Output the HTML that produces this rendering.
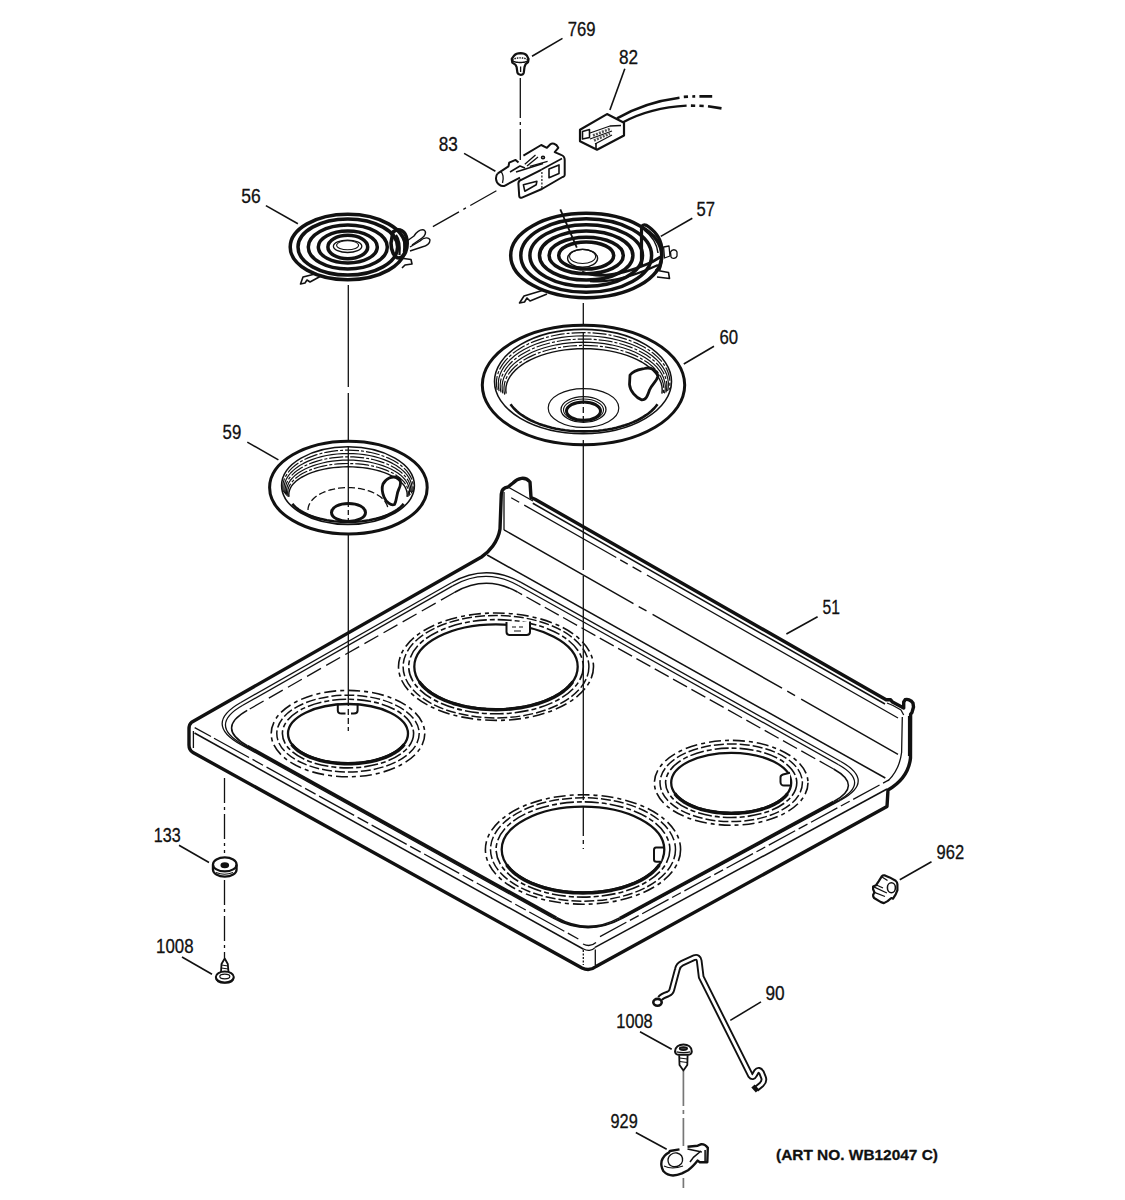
<!DOCTYPE html>
<html><head><meta charset="utf-8"><style>
html,body{margin:0;padding:0;background:#fff;}
svg{display:block;}
text{font-family:"Liberation Sans",sans-serif;fill:#111;}
</style></head><body>
<svg width="1125" height="1200" viewBox="0 0 1125 1200">
<rect width="1125" height="1200" fill="#fff"/>
<g fill="none" stroke="#111" stroke-linejoin="round">
<path d="M191.6,722.2 L481.5,557 C489,552 498,542 500,529 L501.3,494 C501.6,489 504,487.5 508,487 L513,483 C518,478 525,476 530,482 L531,497.5 L535,499.2 L886.1,699.7 L890.5,699.7 L892.5,702.1 L903.7,708 L903.7,702 L905.2,699.7 C907,699 911,699.5 913,703.1 L913.5,707 L912,712.4 L910.6,714.3 L910.5,758 C909,772 900,783 888,790 L887,806.5 L596,966.5 C591,970.5 587,970.5 582,968 L193,752.5 C189.5,750.5 189,748 189,745 L189,729 C189,725 190,723.5 191.6,722.2 Z" stroke-width="3.4" fill="none"/>
<line x1="194.5" y1="733" x2="583.6" y2="949.2" stroke-width="1.56" stroke-linecap="butt"/>
<line x1="595" y1="947.4" x2="887" y2="789" stroke-width="1.56" stroke-linecap="butt"/>
<line x1="583.3" y1="950" x2="583.3" y2="965" stroke-width="1.3" stroke-dasharray="2 1.5" stroke-linecap="butt"/>
<line x1="595.3" y1="949.5" x2="595.3" y2="965" stroke-width="1.3" stroke-linecap="butt"/>
<path d="M583.6,949 C587,951 592,951 595,947.6" stroke-width="1.3" fill="none"/>
<path d="M583,944 C587,946 592,946 596,942.5" stroke-width="1.3" fill="none"/>
<line x1="193.4" y1="731" x2="193.4" y2="748" stroke-width="1.3" stroke-linecap="butt"/>
<path d="M240.8,702.5 Q203.4,723.8 241,744.6" stroke-width="1.3" fill="none"/>
<path d="M552.7,917.9 Q587.6,937.4 622.8,918.3" stroke-width="1.3" fill="none"/>
<path d="M840.6,800.1 Q875.7,781.1 840.8,761.5" stroke-width="1.3" fill="none"/>
<path d="M521,582.4 Q486.1,562.9 451.4,582.7" stroke-width="1.3" fill="none"/>
<path d="M241,744.6 L552.7,917.9" stroke-width="1.3" fill="none"/>
<path d="M622.8,918.3 L840.6,800.1" stroke-width="1.3" fill="none"/>
<path d="M840.8,761.5 L521,582.4" stroke-width="1.3" fill="none"/>
<path d="M451.4,582.7 L240.8,702.5" stroke-width="1.3" fill="none"/>
<path d="M242.8,705.3 Q208,725.1 243,744.6" stroke-width="1.3" fill="none"/>
<path d="M554.7,917.9 Q587.9,936.3 621.3,918.2" stroke-width="1.3" fill="none"/>
<path d="M838.3,800.5 Q870.8,782.8 838.6,764.7" stroke-width="1.3" fill="none"/>
<path d="M518.8,585.7 Q485.7,567.1 452.7,585.9" stroke-width="1.3" fill="none"/>
<path d="M243,744.6 L554.7,917.9" stroke-width="1.6" fill="none"/>
<path d="M621.3,918.2 L838.3,800.5" stroke-width="1.6" fill="none"/>
<path d="M838.6,764.7 L518.8,585.7" stroke-width="1.3" fill="none"/>
<path d="M452.7,585.9 L242.8,705.3" stroke-width="1.3" fill="none"/>
<path d="M247.2,710.4 Q215.9,728.2 247.3,745.7" stroke-width="1.56" fill="none"/>
<path d="M556.4,917.5 Q587.9,935 619.5,917.9" stroke-width="1.56" fill="none"/>
<path d="M833.4,801.8 Q863.3,785.6 833.6,769" stroke-width="1.56" fill="none"/>
<path d="M517.5,592 Q486.1,574.4 454.8,592.2" stroke-width="1.56" fill="none"/>
<path d="M247.3,745.7 L556.4,917.5" stroke-width="2.3" fill="none"/>
<path d="M619.5,917.9 L833.4,801.8" stroke-width="2.3" fill="none"/>
<path d="M833.6,769 L517.5,592" stroke-width="1.3" fill="none" stroke-dasharray="16 5"/>
<path d="M454.8,592.2 L247.2,710.4" stroke-width="1.3" fill="none" stroke-dasharray="16 6"/>
<line x1="194.7" y1="727.6" x2="211" y2="736.5" stroke-width="1.3" stroke-linecap="butt"/>
<line x1="214" y1="738.2" x2="580" y2="939.9" stroke-width="1.3" stroke-dasharray="40 4 12 4" stroke-linecap="butt"/>
<line x1="600" y1="936.6" x2="889" y2="779.9" stroke-width="1.3" stroke-dasharray="30 4 10 4" stroke-linecap="butt"/>
<line x1="487.2" y1="555" x2="885.3" y2="778" stroke-width="1.56" stroke-linecap="butt"/>
<line x1="532.8" y1="503.3" x2="885" y2="704" stroke-width="1.56" stroke-linecap="butt"/>
<line x1="511.2" y1="497.7" x2="898" y2="718" stroke-width="1.3" stroke-dasharray="9.2 5.8 105.9 4.6 8.6 5.6 10.1 6.4 600" stroke-linecap="butt"/>
<line x1="504" y1="529.8" x2="898" y2="754.3" stroke-width="1.43" stroke-dasharray="149 6 9 7" stroke-linecap="butt"/>
<path d="M504,492 L504,530" stroke-width="1.3" fill="none"/>
<path d="M508,487 L533,501" stroke-width="1.3" fill="none"/>
<path d="M902.3,716.9 L901.6,752.5 C900,766 895,774 888.1,780.9" stroke-width="1.3" fill="none"/>
<path d="M887,703 L893,705.5 L901,710 L903.7,715" stroke-width="1.3" fill="none"/>
<path d="M908.5,716 L908.5,756" stroke-width="1.17" fill="none"/>
<ellipse cx="348" cy="733.6" rx="60" ry="29.6" stroke-width="2.3" fill="none"/>
<path d="M404.4,744.3 L403,746 L401.5,747.6 L399.7,749.2 L397.7,750.8 L395.6,752.2 L393.3,753.6 L390.8,754.9 L388.1,756.2 L385.4,757.4 L382.4,758.4 L379.3,759.4 L376.2,760.3 L372.9,761.1 L369.5,761.8 L366,762.4 L362.5,762.9 L358.9,763.3 L355.3,763.6 L351.7,763.7 L348,763.8 L344.3,763.7 L340.7,763.6 L337.1,763.3 L333.5,762.9 L330,762.4 L326.5,761.8 L323.1,761.1 L319.8,760.3 L316.7,759.4 L313.6,758.4 L310.6,757.4 L307.9,756.2 L305.2,754.9 L302.7,753.6 L300.4,752.2 L298.3,750.8 L296.3,749.2 L294.5,747.6 L293,746 L291.6,744.3" stroke-width="3.4" fill="none"/>
<ellipse cx="348" cy="733.6" rx="65.6" ry="34.3" stroke-width="1.6" fill="none" stroke-dasharray="14 3 5 3"/>
<ellipse cx="348" cy="733.6" rx="71.2" ry="38.4" stroke-width="1.5" fill="none" stroke-dasharray="10 3"/>
<ellipse cx="348" cy="733.6" rx="76.8" ry="43.2" stroke-width="1.6" fill="none" stroke-dasharray="12 4 4 4"/>
<ellipse cx="496" cy="666.7" rx="81.7" ry="42.4" stroke-width="2.3" fill="none"/>
<path d="M572.8,681.8 L570.9,684.2 L568.8,686.5 L566.4,688.8 L563.7,691 L560.8,693.1 L557.7,695.1 L554.3,697 L550.7,698.8 L546.9,700.5 L542.9,702 L538.7,703.5 L534.4,704.7 L529.9,705.9 L525.3,706.9 L520.6,707.7 L515.8,708.4 L510.9,709 L506,709.4 L501,709.6 L496,709.7 L491,709.6 L486,709.4 L481.1,709 L476.2,708.4 L471.4,707.7 L466.7,706.9 L462.1,705.9 L457.6,704.7 L453.3,703.5 L449.1,702 L445.1,700.5 L441.3,698.8 L437.7,697 L434.3,695.1 L431.2,693.1 L428.3,691 L425.6,688.8 L423.2,686.5 L421.1,684.2 L419.2,681.8" stroke-width="3.4" fill="none"/>
<ellipse cx="496" cy="666.7" rx="87.3" ry="47.1" stroke-width="1.6" fill="none" stroke-dasharray="14 3 5 3"/>
<ellipse cx="496" cy="666.7" rx="92.9" ry="51.2" stroke-width="1.5" fill="none" stroke-dasharray="10 3"/>
<ellipse cx="496" cy="666.7" rx="97.5" ry="53.7" stroke-width="1.6" fill="none" stroke-dasharray="12 4 4 4"/>
<ellipse cx="583" cy="849.5" rx="81.3" ry="42.9" stroke-width="2.3" fill="none"/>
<path d="M659.4,864.8 L657.6,867.2 L655.4,869.6 L653.1,871.9 L650.4,874.1 L647.5,876.2 L644.4,878.2 L641,880.2 L637.4,882 L633.6,883.7 L629.6,885.2 L625.5,886.7 L621.2,888 L616.7,889.1 L612.1,890.2 L607.4,891 L602.7,891.7 L597.8,892.3 L592.9,892.7 L588,892.9 L583,893 L578,892.9 L573.1,892.7 L568.2,892.3 L563.3,891.7 L558.6,891 L553.9,890.2 L549.3,889.1 L544.8,888 L540.5,886.7 L536.4,885.2 L532.4,883.7 L528.6,882 L525,880.2 L521.6,878.2 L518.5,876.2 L515.6,874.1 L512.9,871.9 L510.6,869.6 L508.4,867.2 L506.6,864.8" stroke-width="3.4" fill="none"/>
<ellipse cx="583" cy="849.5" rx="86.9" ry="47.6" stroke-width="1.6" fill="none" stroke-dasharray="14 3 5 3"/>
<ellipse cx="583" cy="849.5" rx="92.5" ry="51.7" stroke-width="1.5" fill="none" stroke-dasharray="10 3"/>
<ellipse cx="583" cy="849.5" rx="97.6" ry="54.7" stroke-width="1.6" fill="none" stroke-dasharray="12 4 4 4"/>
<ellipse cx="731.2" cy="782.8" rx="60" ry="30" stroke-width="2.3" fill="none"/>
<path d="M787.6,793.7 L786.2,795.4 L784.7,797 L782.9,798.6 L780.9,800.2 L778.8,801.7 L776.5,803.1 L774,804.4 L771.3,805.7 L768.6,806.9 L765.6,808 L762.5,809 L759.4,809.9 L756.1,810.7 L752.7,811.4 L749.2,812 L745.7,812.5 L742.1,812.9 L738.5,813.2 L734.9,813.3 L731.2,813.4 L727.5,813.3 L723.9,813.2 L720.3,812.9 L716.7,812.5 L713.2,812 L709.7,811.4 L706.3,810.7 L703,809.9 L699.9,809 L696.8,808 L693.8,806.9 L691.1,805.7 L688.4,804.4 L685.9,803.1 L683.6,801.7 L681.5,800.2 L679.5,798.6 L677.7,797 L676.2,795.4 L674.8,793.7" stroke-width="3.4" fill="none"/>
<ellipse cx="731.2" cy="782.8" rx="65.6" ry="34.7" stroke-width="1.6" fill="none" stroke-dasharray="14 3 5 3"/>
<ellipse cx="731.2" cy="782.8" rx="71.2" ry="38.8" stroke-width="1.5" fill="none" stroke-dasharray="10 3"/>
<ellipse cx="731.2" cy="782.8" rx="76.8" ry="42.4" stroke-width="1.6" fill="none" stroke-dasharray="12 4 4 4"/>
<path d="M337.8,703.5 L337.8,710.5 C337.8,712.8 339.5,713.6 341.5,713.6 L345.5,713.6" stroke-width="2.0" fill="none"/>
<path d="M351,713.6 L354,713.6 C356,713.6 357.6,712.8 357.6,710.5 L357.6,703.5" stroke-width="2.0" fill="none"/>
<path d="M506.5,622 L506.5,632 C506.5,634 508,635 510,635 L526.5,635 C528.5,635 530,634 530,632 L530,621.5" stroke-width="2.0" fill="#fff"/>
<path d="M512,627 L516,627 M519,627 L523,627 M514,631 L521,631" stroke-width="1.04" fill="none"/>
<path d="M663,847.5 L656,847.5 C654.5,847.5 654,848.5 654,850 L654,859.5 C654,861 655,861.8 656.5,861.8 L661,861.8" stroke-width="2.0" fill="#fff"/>
<path d="M790,772.8 L783,774.5 C781.5,775 780.5,776 780.5,777.5 L780.5,782 C780.5,784 782,785.6 784,785.6 L790,785.6" stroke-width="2.0" fill="#fff"/>
<line x1="348.3" y1="285" x2="348.3" y2="387" stroke-width="1.3" stroke-linecap="butt"/>
<line x1="348.3" y1="393" x2="348.3" y2="440" stroke-width="1.3" stroke-linecap="butt"/>
<line x1="348.3" y1="446" x2="348.3" y2="502" stroke-width="1.3" stroke-linecap="butt"/>
<line x1="348.3" y1="502" x2="348.3" y2="522" stroke-width="1.3" stroke-dasharray="5 3" stroke-linecap="butt"/>
<line x1="348.3" y1="535" x2="348.3" y2="700" stroke-width="1.3" stroke-linecap="butt"/>
<line x1="348.3" y1="700" x2="348.3" y2="731" stroke-width="1.3" stroke-dasharray="6 3" stroke-linecap="butt"/>
<line x1="583.3" y1="303" x2="583.3" y2="326" stroke-width="1.3" stroke-linecap="butt"/>
<line x1="583.3" y1="333" x2="583.3" y2="398" stroke-width="1.3" stroke-linecap="butt"/>
<line x1="583.3" y1="398" x2="583.3" y2="425" stroke-width="1.3" stroke-dasharray="6 3" stroke-linecap="butt"/>
<line x1="583.3" y1="440" x2="583.3" y2="570" stroke-width="1.3" stroke-linecap="butt"/>
<line x1="583.3" y1="576" x2="583.3" y2="800" stroke-width="1.3" stroke-linecap="butt"/>
<line x1="583.3" y1="806" x2="583.3" y2="849" stroke-width="1.3" stroke-dasharray="30 4 4 4" stroke-linecap="butt"/>
<line x1="224.5" y1="778" x2="224.5" y2="853" stroke-width="1.3" stroke-dasharray="25 4 3 4" stroke-linecap="butt"/>
<line x1="224.5" y1="880" x2="224.5" y2="958" stroke-width="1.3" stroke-dasharray="25 4 3 4" stroke-linecap="butt"/>
<line x1="520.3" y1="78" x2="520.3" y2="160" stroke-width="1.3" stroke-dasharray="40 4 3 4" stroke-linecap="butt"/>
<line x1="496.4" y1="190.7" x2="428.9" y2="228.9" stroke-width="1.3" stroke-dasharray="30 5 3 5" stroke-linecap="butt"/>
<g stroke="#777">
<line x1="683.4" y1="1071" x2="683.4" y2="1106" stroke-width="1.7" stroke-linecap="butt"/>
<line x1="683.4" y1="1110" x2="683.4" y2="1114" stroke-width="1.7" stroke-linecap="butt"/>
<line x1="683.4" y1="1118" x2="683.4" y2="1146" stroke-width="1.7" stroke-linecap="butt"/>
<line x1="683.4" y1="1178" x2="683.4" y2="1188" stroke-width="1.7" stroke-linecap="butt"/>
</g>
<ellipse cx="348.4" cy="487.6" rx="78.8" ry="46.4" stroke-width="3.0" fill="none"/>
<ellipse cx="348" cy="485.6" rx="66.4" ry="38.8" stroke-width="1.56" fill="none"/>
<path d="M283.4,492.2 L282.9,489.1 L282.8,485.9 L283.2,482.8 L284.1,479.6 L285.5,476.6 L287.3,473.6 L289.5,470.7 L292.2,467.9 L295.3,465.3 L298.8,462.8 L302.6,460.5 L306.8,458.4 L311.3,456.6 L316,454.9 L321,453.5 L326.1,452.3 L331.5,451.3 L336.9,450.7 L342.4,450.3 L348,450.1 L353.6,450.3 L359.1,450.7 L364.5,451.3 L369.9,452.3 L375,453.5 L380,454.9 L384.7,456.6 L389.2,458.4 L393.4,460.5 L397.2,462.8 L400.7,465.3 L403.8,467.9 L406.5,470.7 L408.7,473.6 L410.5,476.6 L411.9,479.6 L412.8,482.8 L413.2,485.9 L413.1,489.1 L412.6,492.2" stroke-width="1.17" fill="none" stroke-dasharray="14 2 3 2"/>
<path d="M284.6,493.4 L284.1,490.4 L284,487.4 L284.4,484.4 L285.3,481.5 L286.6,478.6 L288.4,475.7 L290.6,473 L293.3,470.4 L296.3,467.9 L299.7,465.5 L303.5,463.4 L307.6,461.4 L311.9,459.6 L316.6,458 L321.5,456.6 L326.5,455.5 L331.8,454.6 L337.1,454 L342.5,453.6 L348,453.5 L353.5,453.6 L358.9,454 L364.2,454.6 L369.5,455.5 L374.5,456.6 L379.4,458 L384.1,459.6 L388.4,461.4 L392.5,463.4 L396.3,465.5 L399.7,467.9 L402.7,470.4 L405.4,473 L407.6,475.7 L409.4,478.6 L410.7,481.5 L411.6,484.4 L412,487.4 L411.9,490.4 L411.4,493.4" stroke-width="1.17" fill="none"/>
<path d="M285.8,494.6 L285.3,491.8 L285.2,489 L285.6,486.1 L286.5,483.3 L287.8,480.6 L289.5,477.9 L291.7,475.3 L294.3,472.8 L297.3,470.4 L300.6,468.2 L304.3,466.2 L308.3,464.3 L312.6,462.6 L317.2,461.1 L322,459.8 L326.9,458.7 L332.1,457.9 L337.3,457.3 L342.6,456.9 L348,456.8 L353.4,456.9 L358.7,457.3 L363.9,457.9 L369.1,458.7 L374,459.8 L378.8,461.1 L383.4,462.6 L387.7,464.3 L391.7,466.2 L395.4,468.2 L398.7,470.4 L401.7,472.8 L404.3,475.3 L406.5,477.9 L408.2,480.6 L409.5,483.3 L410.4,486.1 L410.8,489 L410.7,491.8 L410.2,494.6" stroke-width="1.17" fill="none" stroke-dasharray="14 2 3 2"/>
<path d="M287,495.8 L286.5,493.2 L286.4,490.5 L286.8,487.8 L287.7,485.2 L288.9,482.6 L290.6,480 L292.8,477.6 L295.3,475.2 L298.2,473 L301.5,470.9 L305.1,469 L309.1,467.2 L313.3,465.6 L317.8,464.2 L322.5,463 L327.3,461.9 L332.4,461.2 L337.5,460.6 L342.7,460.2 L348,460.1 L353.3,460.2 L358.5,460.6 L363.6,461.2 L368.7,461.9 L373.5,463 L378.2,464.2 L382.7,465.6 L386.9,467.2 L390.9,469 L394.5,470.9 L397.8,473 L400.7,475.2 L403.2,477.6 L405.4,480 L407.1,482.6 L408.3,485.2 L409.2,487.8 L409.6,490.5 L409.5,493.2 L409,495.8" stroke-width="1.17" fill="none"/>
<path d="M288.2,497 L287.7,494.5 L287.6,492 L288,489.5 L288.8,487 L290.1,484.6 L291.8,482.2 L293.9,479.9 L296.3,477.7 L299.2,475.6 L302.4,473.6 L306,471.8 L309.8,470.1 L314,468.6 L318.3,467.3 L323,466.1 L327.7,465.2 L332.7,464.4 L337.7,463.9 L342.8,463.6 L348,463.5 L353.2,463.6 L358.3,463.9 L363.3,464.4 L368.3,465.2 L373,466.1 L377.7,467.3 L382,468.6 L386.2,470.1 L390,471.8 L393.6,473.6 L396.8,475.6 L399.7,477.7 L402.1,479.9 L404.2,482.2 L405.9,484.6 L407.2,487 L408,489.5 L408.4,492 L408.3,494.5 L407.8,497" stroke-width="1.17" fill="none" stroke-dasharray="14 2 3 2"/>
<path d="M289,496.8 L288.8,494.5 L289,492.2 L289.6,490 L290.6,487.7 L291.9,485.5 L293.7,483.4 L295.9,481.3 L298.4,479.4 L301.2,477.5 L304.4,475.8 L307.8,474.1 L311.6,472.7 L315.5,471.3 L319.8,470.1 L324.2,469.1 L328.7,468.3 L333.4,467.6 L338.2,467.2 L343.1,466.9 L348,466.8 L352.9,466.9 L357.8,467.2 L362.6,467.6 L367.3,468.3 L371.8,469.1 L376.2,470.1 L380.5,471.3 L384.4,472.7 L388.2,474.1 L391.6,475.8 L394.8,477.5 L397.6,479.4 L400.1,481.3 L402.3,483.4 L404.1,485.5 L405.4,487.7 L406.4,490 L407,492.2 L407.2,494.5 L407,496.8" stroke-width="1.43" fill="none"/>
<path d="M403.6,503.8 L402.3,505.4 L400.7,506.9 L399,508.4 L397.1,509.8 L395,511.2 L392.7,512.5 L390.2,513.7 L387.6,514.9 L384.9,516 L382,517 L378.9,517.9 L375.8,518.8 L372.5,519.5 L369.2,520.2 L365.8,520.7 L362.3,521.2 L358.8,521.5 L355.2,521.8 L351.6,521.9 L348,522 L344.4,521.9 L340.8,521.8 L337.2,521.5 L333.7,521.2 L330.2,520.7 L326.8,520.2 L323.5,519.5 L320.2,518.8 L317.1,517.9 L314,517 L311.1,516 L308.4,514.9 L305.8,513.7 L303.3,512.5 L301,511.2 L298.9,509.8 L297,508.4 L295.3,506.9 L293.7,505.4 L292.4,503.8" stroke-width="2.6" fill="none"/>
<ellipse cx="348.5" cy="512.4" rx="17" ry="9" stroke-width="3.0" fill="none"/>
<path d="M383,484 C386,478 392,476 397,477.5 C402,479.5 401,485 398.5,490 C396.5,494 397,500 394.5,504.5 C391,506 386,502 384,497 C382,492 381.5,488 383,484 Z" stroke-width="2.8" fill="none"/>
<path d="M308,510 L308.1,508.2 L308.5,506.5 L309.1,504.8 L310,503.1 L311,501.4 L312.4,499.8 L313.9,498.3 L315.6,496.8 L317.6,495.5 L319.7,494.2 L322,493 L324.5,491.9 L327.1,490.9 L329.8,490 L332.7,489.3 L335.6,488.7 L338.7,488.2 L341.7,487.9 L344.9,487.7 L348,487.6 L351.1,487.7 L354.3,487.9 L357.3,488.2 L360.4,488.7 L363.3,489.3 L366.2,490 L368.9,490.9 L371.5,491.9 L374,493 L376.3,494.2 L378.4,495.5 L380.4,496.8 L382.1,498.3 L383.6,499.8 L385,501.4 L386,503.1 L386.9,504.8 L387.5,506.5 L387.9,508.2 L388,510" stroke-width="1.3" fill="none" stroke-dasharray="7 3"/>
<ellipse cx="583.5" cy="385" rx="101.2" ry="59.8" stroke-width="3.0" fill="none"/>
<ellipse cx="583" cy="381.5" rx="88.5" ry="52.1" stroke-width="1.56" fill="none"/>
<path d="M497.2,389.9 L496.5,385.6 L496.4,381.3 L497,377 L498.2,372.8 L500,368.6 L502.4,364.6 L505.4,360.6 L508.9,356.9 L513,353.3 L517.7,349.9 L522.8,346.8 L528.3,343.9 L534.3,341.4 L540.6,339.1 L547.2,337.1 L554.1,335.5 L561.1,334.2 L568.4,333.3 L575.8,332.8 L583.2,332.6 L590.6,332.8 L597.9,333.3 L605.2,334.2 L612.3,335.5 L619.2,337.1 L625.8,339.1 L632.1,341.4 L638,343.9 L643.6,346.8 L648.7,349.9 L653.3,353.3 L657.4,356.9 L661,360.6 L664,364.6 L666.4,368.6 L668.2,372.8 L669.4,377 L669.9,381.3 L669.8,385.6 L669.1,389.9" stroke-width="1.17" fill="none" stroke-dasharray="14 2 3 2"/>
<path d="M499.1,391.1 L498.4,387 L498.3,382.8 L498.8,378.7 L500,374.6 L501.8,370.5 L504.1,366.6 L507.1,362.8 L510.6,359.2 L514.6,355.7 L519.1,352.5 L524.1,349.5 L529.6,346.7 L535.4,344.2 L541.6,342.1 L548.1,340.2 L554.8,338.6 L561.7,337.4 L568.9,336.5 L576.1,336 L583.3,335.8 L590.6,336 L597.8,336.5 L604.9,337.4 L611.9,338.6 L618.6,340.2 L625.1,342.1 L631.3,344.2 L637.1,346.7 L642.5,349.5 L647.5,352.5 L652.1,355.7 L656.1,359.2 L659.6,362.8 L662.5,366.6 L664.9,370.5 L666.7,374.6 L667.8,378.7 L668.4,382.8 L668.3,387 L667.6,391.1" stroke-width="1.17" fill="none"/>
<path d="M501,392.3 L500.3,388.3 L500.2,384.3 L500.7,380.3 L501.9,376.3 L503.6,372.5 L505.9,368.7 L508.8,365 L512.2,361.5 L516.2,358.2 L520.6,355.1 L525.5,352.2 L530.8,349.5 L536.5,347.1 L542.6,345 L548.9,343.2 L555.5,341.7 L562.3,340.5 L569.3,339.7 L576.4,339.2 L583.5,339 L590.6,339.2 L597.7,339.7 L604.7,340.5 L611.5,341.7 L618.1,343.2 L624.4,345 L630.5,347.1 L636.2,349.5 L641.5,352.2 L646.4,355.1 L650.8,358.2 L654.8,361.5 L658.2,365 L661.1,368.7 L663.4,372.5 L665.1,376.3 L666.3,380.3 L666.8,384.3 L666.7,388.3 L666,392.3" stroke-width="1.17" fill="none" stroke-dasharray="14 2 3 2"/>
<path d="M502.8,393.4 L502.2,389.6 L502.1,385.8 L502.6,381.9 L503.7,378.1 L505.4,374.4 L507.7,370.8 L510.5,367.2 L513.8,363.9 L517.7,360.7 L522.1,357.7 L526.9,354.9 L532.1,352.3 L537.7,350 L543.6,348 L549.8,346.2 L556.3,344.8 L563,343.7 L569.8,342.9 L576.7,342.4 L583.7,342.2 L590.6,342.4 L597.6,342.9 L604.4,343.7 L611.1,344.8 L617.5,346.2 L623.7,348 L629.7,350 L635.3,352.3 L640.5,354.9 L645.3,357.7 L649.6,360.7 L653.5,363.9 L656.8,367.2 L659.7,370.8 L661.9,374.4 L663.6,378.1 L664.7,381.9 L665.3,385.8 L665.2,389.6 L664.5,393.4" stroke-width="1.17" fill="none"/>
<path d="M504.7,394.6 L504,390.9 L504,387.2 L504.5,383.5 L505.5,379.9 L507.2,376.3 L509.4,372.8 L512.2,369.5 L515.5,366.2 L519.3,363.1 L523.5,360.3 L528.2,357.6 L533.3,355.1 L538.8,352.9 L544.6,351 L550.7,349.3 L557,347.9 L563.6,346.8 L570.2,346 L577,345.6 L583.8,345.4 L590.7,345.6 L597.4,346 L604.1,346.8 L610.6,347.9 L617,349.3 L623.1,351 L628.9,352.9 L634.3,355.1 L639.4,357.6 L644.1,360.3 L648.4,363.1 L652.2,366.2 L655.5,369.5 L658.2,372.8 L660.5,376.3 L662.1,379.9 L663.2,383.5 L663.7,387.2 L663.6,390.9 L663,394.6" stroke-width="1.17" fill="none" stroke-dasharray="14 2 3 2"/>
<path d="M506.1,393.6 L505.8,390.2 L506,386.8 L506.8,383.3 L508.1,380 L510,376.7 L512.3,373.5 L515.1,370.4 L518.4,367.5 L522.2,364.7 L526.3,362 L530.9,359.6 L535.9,357.4 L541.1,355.4 L546.7,353.6 L552.5,352.1 L558.5,350.9 L564.8,349.9 L571.1,349.2 L577.5,348.7 L584,348.6 L590.5,348.7 L596.9,349.2 L603.2,349.9 L609.5,350.9 L615.5,352.1 L621.3,353.6 L626.9,355.4 L632.1,357.4 L637.1,359.6 L641.7,362 L645.8,364.7 L649.6,367.5 L652.9,370.4 L655.7,373.5 L658,376.7 L659.9,380 L661.2,383.3 L662,386.8 L662.2,390.2 L661.9,393.6" stroke-width="1.43" fill="none"/>
<path d="M657.5,404.2 L655.7,406.5 L653.7,408.8 L651.4,411 L648.8,413.2 L646,415.2 L643,417.2 L639.8,419 L636.3,420.8 L632.7,422.4 L628.9,423.9 L624.9,425.3 L620.7,426.6 L616.4,427.7 L612,428.7 L607.5,429.5 L602.9,430.2 L598.3,430.7 L593.5,431.1 L588.8,431.3 L584,431.4 L579.2,431.3 L574.5,431.1 L569.7,430.7 L565.1,430.2 L560.5,429.5 L556,428.7 L551.6,427.7 L547.3,426.6 L543.1,425.3 L539.1,423.9 L535.3,422.4 L531.7,420.8 L528.2,419 L525,417.2 L522,415.2 L519.2,413.2 L516.6,411 L514.3,408.8 L512.3,406.5 L510.5,404.2" stroke-width="2.6" fill="none"/>
<ellipse cx="583.5" cy="411.1" rx="17" ry="9.2" stroke-width="3.0" fill="none"/>
<path d="M630,375 C634,370 640,369.5 644.5,368.5 C650,367 656,369 658,376 C657,381 652,384 649.5,390 C647.5,396 646,400 641.7,399.8 C636,398 630,391 629.5,384.5 Z" stroke-width="2.8" fill="none"/>
<ellipse cx="583.5" cy="409.5" rx="22.5" ry="12.8" stroke-width="1.3" fill="none"/>
<ellipse cx="583.5" cy="410" rx="20" ry="11" stroke-width="1.04" fill="none"/>
<ellipse cx="583.5" cy="408" rx="35.3" ry="19.4" stroke-width="1.17" fill="none"/>
<ellipse cx="347.8" cy="247" rx="57.6" ry="32.7" stroke-width="3.5" fill="none"/>
<ellipse cx="347.8" cy="247" rx="49.8" ry="28.1" stroke-width="3.5" fill="none"/>
<ellipse cx="347.8" cy="247" rx="39.5" ry="22" stroke-width="3.5" fill="none"/>
<ellipse cx="347.8" cy="247" rx="29.5" ry="16" stroke-width="3.5" fill="none"/>
<ellipse cx="347.8" cy="247" rx="19.9" ry="11.7" stroke-width="3.5" fill="none"/>
<ellipse cx="347.6" cy="246.3" rx="14.2" ry="6.2" stroke-width="1.3" fill="none"/>
<ellipse cx="347.6" cy="245.3" rx="11" ry="4.5" stroke-width="1.04" fill="none"/>
<path d="M393,232 C399,227 406,231 407,240 C408,249 405,257 399,258 C394,258 391,250 391,243 Z" stroke-width="3.6" fill="none"/>
<path d="M396,235 C399,239 400.5,245 399.5,255" stroke-width="2.2" fill="none"/>
<path d="M402.5,235 C404,240 404.5,246 403.5,252" stroke-width="1.56" fill="none"/>
<path d="M407,241 L414,236 C416,233 420,229 424,230 C427,232 425,236 422,238 L412,245" stroke-width="1.4" fill="none"/>
<path d="M410,247 L420,241 C424,237 429,237 430,240 C430,244 426,246 422,247 L410,251" stroke-width="1.4" fill="none"/>
<path d="M400,258 L411,259.5 L412,264 L405,265 L402,268" stroke-width="1.6" fill="none"/>
<path d="M317,273.5 L303,277 L300.5,284 L305,283 L307,280 L310,282 L321,276" stroke-width="1.6" fill="none"/>
<ellipse cx="586.2" cy="255.5" rx="75.5" ry="42.2" stroke-width="3.5" fill="none"/>
<ellipse cx="586.2" cy="255.5" rx="65.4" ry="36.8" stroke-width="3.5" fill="none"/>
<ellipse cx="586.2" cy="255.5" rx="56.3" ry="30.7" stroke-width="3.5" fill="none"/>
<ellipse cx="586.2" cy="255.5" rx="46.7" ry="24.6" stroke-width="3.5" fill="none"/>
<ellipse cx="586.2" cy="255.5" rx="37.1" ry="18.2" stroke-width="3.5" fill="none"/>
<ellipse cx="586.2" cy="255.5" rx="27.5" ry="13.6" stroke-width="3.5" fill="none"/>
<ellipse cx="582.6" cy="258.3" rx="15" ry="9" stroke-width="1.43" fill="none"/>
<ellipse cx="582.6" cy="256.5" rx="13" ry="7" stroke-width="1.04" fill="none"/>
<path d="M560.3,209.3 L576.8,247.7" stroke-width="1.8" fill="none"/>
<path d="M641.5,265 L641.5,229 C641.5,224 645,224 649,227 C657,233 662,242 662,251 C662,259 661,265 659,270" stroke-width="3.2" fill="none"/>
<path d="M644,230 C652,236 657,244 658,253" stroke-width="1.56" fill="none"/>
<path d="M663.6,247 L669,246 L670,256 L664.5,258 Z" stroke-width="1.3" fill="none"/>
<path d="M670.5,252 C672,249 676,249 677,252 L677,256 C676,259 672,259 671,257 Z" stroke-width="1.3" fill="none"/>
<path d="M655,270 L668.5,272.5 L669.5,278.5 L657,277" stroke-width="1.6" fill="none"/>
<path d="M544,290 L524,296 L519.5,303 L524.5,302 L527,298 L530,301 L547,294" stroke-width="1.6" fill="none"/>
<path d="M582,272 C600,279 625,274 652,262 L662,256" stroke-width="2.8" fill="none"/>
<path d="M590,281 C610,283 632,277 658,265" stroke-width="2.4" fill="none"/>
<path d="M511.7,58.9 L514.2,55.5 C515.5,54 517.5,53.3 520.6,53.2 C523.5,53.3 525.5,54 526.8,55.5 L528.6,58.9 L528.1,62.1 L525.6,64.2 L524.5,67 L523.8,72.7 C523,75.5 518.5,75.5 517.4,72.7 L516.6,67 L515.3,64.6 L512.3,62.6 Z" stroke-width="2.2" fill="none"/>
<path d="M512.6,60.2 L512.6,60 L512.7,59.8 L512.8,59.7 L513,59.5 L513.2,59.3 L513.4,59.2 L513.7,59 L514.1,58.8 L514.4,58.7 L514.8,58.6 L515.3,58.5 L515.7,58.3 L516.2,58.2 L516.7,58.2 L517.3,58.1 L517.9,58 L518.4,58 L519,57.9 L519.6,57.9 L520.2,57.9 L520.8,57.9 L521.4,57.9 L522,58 L522.5,58 L523.1,58.1 L523.7,58.2 L524.2,58.2 L524.7,58.3 L525.1,58.5 L525.6,58.6 L526,58.7 L526.3,58.8 L526.7,59 L527,59.2 L527.2,59.3 L527.4,59.5 L527.6,59.7 L527.7,59.8 L527.8,60 L527.8,60.2" stroke-width="1.43" fill="none" stroke-dasharray="1.5 1"/>
<path d="M527.8,60.2 L527.8,60.4 L527.7,60.6 L527.6,60.7 L527.4,60.9 L527.2,61.1 L527,61.2 L526.7,61.4 L526.3,61.6 L526,61.7 L525.6,61.8 L525.1,61.9 L524.7,62.1 L524.2,62.2 L523.7,62.2 L523.1,62.3 L522.5,62.4 L522,62.4 L521.4,62.5 L520.8,62.5 L520.2,62.5 L519.6,62.5 L519,62.5 L518.4,62.4 L517.9,62.4 L517.3,62.3 L516.7,62.2 L516.2,62.2 L515.7,62.1 L515.3,61.9 L514.8,61.8 L514.4,61.7 L514.1,61.6 L513.7,61.4 L513.4,61.2 L513.2,61.1 L513,60.9 L512.8,60.7 L512.7,60.6 L512.6,60.4 L512.6,60.2" stroke-width="1.4" fill="none"/>
<path d="M520.6,66.5 L520.6,72" stroke-width="1.3" fill="none"/>
<path d="M497.8,173.4 C495.2,176 495.2,182 499.2,184.6 C501,186 503.5,186.4 505.5,185.3 L520,177.7" stroke-width="2.0" fill="none"/>
<path d="M497.8,173.4 L508.5,166.3 L509.2,162.7 L515.6,159.9 L518.5,162.5" stroke-width="2.0" fill="none"/>
<path d="M500.5,171.5 C503,173 504,178 502.5,183" stroke-width="1.3" fill="none"/>
<path d="M523.4,155.6 L541.2,145 L546.9,147.8 L550.4,144.2 C552,143 556,143 558.3,147.8 L554.7,152.1 L561.1,154.9 C563,155.5 564.7,157 564.7,160 L564.7,174.8 C564.7,176 563.5,177 562.5,177 L541.9,189 L522,197.6 C520.5,198 519.2,197.5 519.2,196 L518.4,183.4 C518.4,181.5 519.5,180.5 521.3,179.8 L541.2,169.8" stroke-width="2.0" fill="none"/>
<path d="M541.9,172 L541.9,189" stroke-width="1.17" fill="none" stroke-dasharray="2 1.5"/>
<path d="M523.4,184.8 L536.9,181.2 L536.2,184.8 L524.8,191.2 Z" stroke-width="1.6" fill="none"/>
<path d="M549,169.1 L559,164.9 L559,173.4 L549,177.7 Z" stroke-width="1.6" fill="none"/>
<path d="M541.2,169.8 L562,158.5" stroke-width="1.56" fill="none"/>
<path d="M516,172 L543,163.5" stroke-width="1.6" fill="none"/>
<path d="M524.8,164.2 L535.5,154.9 M527,166 L538,157" stroke-width="1.3" fill="none"/>
<path d="M529.8,166.3 L547.6,161.3" stroke-width="1.3" fill="none"/>
<ellipse cx="543" cy="157.5" rx="1.5" ry="1.2" stroke-width="1.5" fill="none"/>
<path d="M510,172 L520,166 L525,168" stroke-width="1.56" fill="none"/>
<path d="M580,129.8 L607,114.1 L624,122.7 L624,135.5 L597,149.7 L580,141.2 Z" stroke-width="2.2" fill="none"/>
<path d="M582.5,131.5 L589.5,129.5 L589.5,137.5 L582.5,139 Z" stroke-width="1.56" fill="none"/>
<path d="M590,133 L610,126 L621,125.5 M590,139 L612,131 M595,144 L612,135" stroke-width="1.3" fill="none"/>
<path d="M593,135.5 L611,128.5 M594,140.5 L610,133.5" stroke-width="2.6" fill="none" stroke-dasharray="2 1.2" stroke="#555"/>
<path d="M596,143 L596,149" stroke-width="1.6" fill="none"/>
<path d="M617,118.4 C635,108 655,101 679.5,97.8" stroke-width="2.4" fill="none"/>
<path d="M622.6,122.5 C640,113 660,107 686.6,105.6" stroke-width="2.4" fill="none"/>
<path d="M683.8,96.9 L688,96.6 M692.3,96.5 L695.2,96.4 M699.4,96.4 L712.2,96.4" stroke-width="2.6" fill="none"/>
<path d="M690.9,105.6 L695.2,105.7 M699.4,105.8 L703.7,106 M708,106.3 L721.5,108.4" stroke-width="2.6" fill="none"/>
<path d="M212.9,864.5 L212.9,869.5 C213,873.5 218,876.6 224.8,876.6 C231.5,876.6 236.6,873.5 236.6,869.5 L236.6,864.5" stroke-width="2.2" fill="none"/>
<ellipse cx="224.8" cy="864.4" rx="11.8" ry="7" stroke-width="2.2" fill="none"/>
<ellipse cx="224.8" cy="865.3" rx="3.6" ry="2.3" stroke-width="1.5" fill="#111"/>
<path d="M216,872.5 C221,874.5 228,874.5 233,872.5" stroke-width="1.04" fill="none"/>
<ellipse cx="224.8" cy="977" rx="9" ry="5.5" stroke-width="2.0" fill="none"/>
<path d="M216,977.5 C216,981.5 220,983 224.8,983 C229.5,983 233.7,981.5 233.7,977.5" stroke-width="1.6" fill="none"/>
<path d="M221,972 L221.5,964 L224.7,958.5 L227.8,964 L228.5,972" stroke-width="1.8" fill="none"/>
<path d="M221.5,965 L228,966 M221.5,968 L228.2,969" stroke-width="1.17" fill="none"/>
<ellipse cx="224.8" cy="976.5" rx="5" ry="2.3" stroke-width="1.17" fill="none"/>
<path d="M675,1051.5 C675,1047 679,1044.5 683.4,1044.5 C688,1044.5 691.8,1047 691.8,1051.5 C691.8,1053.5 690,1054.8 688,1054.8 L679,1054.8 C677,1054.8 675,1053.5 675,1051.5 Z" stroke-width="2.0" fill="none"/>
<ellipse cx="683.4" cy="1048.6" rx="3.8" ry="1.5" stroke-width="1.56" fill="#444"/>
<path d="M676.5,1051.8 C680,1052.8 687,1052.8 690.3,1051.8" stroke-width="1.3" fill="none"/>
<path d="M679.2,1055.3 L679.5,1065 L683.4,1070.5 L687.3,1065 L687.6,1055.3" stroke-width="1.8" fill="none"/>
<path d="M679.5,1058 L687.4,1059 M679.5,1061.5 L687.3,1062.5" stroke-width="1.17" fill="none"/>
<path d="M881.9,876.1 C882.5,875.4 884,875.2 884.9,875.4 L889.6,877.4 L895.7,880.8 C897,881.8 897.4,883 897.4,884.2 L897.4,890.3 L895.7,894.3 L893,898.7 L891.3,898 L887.6,901.1 L883.9,903.1 L880.9,902.1 L874.1,898 C873.3,897 873,896 873.1,895 L874.4,892.3 L873.1,889.3 L873.1,886.6 L876.1,885.2 L878.8,881.1 Z" stroke-width="2.2" fill="none"/>
<ellipse cx="891.4" cy="887.8" rx="4" ry="5" stroke-width="1.56" fill="none"/>
<path d="M873.8,886.9 L886.9,893 M874.4,892.3 L885,896.5 M882,877 L887.5,880.5 M876.5,885 L883,888" stroke-width="1.3" fill="none"/>
<path d="M660,998.5 C662,996 665,995 668,994 C670.5,993 671.3,992 671.8,990 L677.3,969.5 C678,966.5 679.5,964.5 682,963.3 L694.5,957.6 C697,956.6 698.8,958 699.2,960.8 L701.2,977 L750.5,1075.5 C752,1077.5 753.5,1077 754.5,1075 L756.5,1071.5 C758,1069.5 760,1070 761.5,1072.5 L763.5,1077.5 C764.5,1080 763.5,1082.5 761.5,1084.5 L756,1089" stroke-width="6.6" fill="none"/>
<path d="M660,998.5 C662,996 665,995 668,994 C670.5,993 671.3,992 671.8,990 L677.3,969.5 C678,966.5 679.5,964.5 682,963.3 L694.5,957.6 C697,956.6 698.8,958 699.2,960.8 L701.2,977 L750.5,1075.5 C752,1077.5 753.5,1077 754.5,1075 L756.5,1071.5 C758,1069.5 760,1070 761.5,1072.5 L763.5,1077.5 C764.5,1080 763.5,1082.5 761.5,1084.5 L756,1089" stroke-width="2.8" fill="none" stroke="#fff"/>
<ellipse cx="657.5" cy="1002.3" rx="4.2" ry="3.4" stroke-width="2.6" fill="none"/>
<path d="M753,1086 L757.5,1091" stroke-width="4.5" fill="none"/>
<path d="M679.5,1149.4 L669.9,1151 L668.9,1152.6 C665,1154.5 663,1157 661.6,1161 C661,1164 661.5,1168 663.5,1171.3 C666,1174 669,1175.5 673,1175.5 C676,1175.3 679,1174.5 682,1173.4 L688.1,1170.2 C692,1167.5 695,1164 697.7,1160.6 L699.8,1162.2 L707.3,1162.2 L707.8,1147.8 C706,1145.5 703,1144 701.4,1144.1 L697.7,1145.7 L687.5,1146.7" stroke-width="2.4" fill="none"/>
<path d="M687.5,1148.9 L701.9,1152 M701,1151 L693.4,1157.4 L690,1162 M705.1,1150 L705.1,1161.1" stroke-width="1.56" fill="none"/>
<path d="M668,1160 C668,1155 673,1152.5 677,1153 C681,1154 683,1157 682.5,1161 C682,1165 677,1167.5 672.5,1166.5 C669.5,1165.5 668,1163 668,1160 Z" stroke-width="1.3" fill="none"/>
<path d="M664,1166 C669,1168.5 676,1168.5 683,1166" stroke-width="1.17" fill="none"/>
<text x="567.7" y="36.3" font-size="19.5" font-weight="normal" textLength="27.8" lengthAdjust="spacingAndGlyphs" stroke="#111" stroke-width="0.3">769</text>
<text x="619" y="63.6" font-size="19.5" font-weight="normal" textLength="19.1" lengthAdjust="spacingAndGlyphs" stroke="#111" stroke-width="0.3">82</text>
<text x="438.8" y="150.6" font-size="19.5" font-weight="normal" textLength="19.1" lengthAdjust="spacingAndGlyphs" stroke="#111" stroke-width="0.3">83</text>
<text x="241.2" y="202.9" font-size="19.5" font-weight="normal" textLength="19.5" lengthAdjust="spacingAndGlyphs" stroke="#111" stroke-width="0.3">56</text>
<text x="696.4" y="216.1" font-size="19.5" font-weight="normal" textLength="18.5" lengthAdjust="spacingAndGlyphs" stroke="#111" stroke-width="0.3">57</text>
<text x="719.5" y="344" font-size="19.5" font-weight="normal" textLength="18.7" lengthAdjust="spacingAndGlyphs" stroke="#111" stroke-width="0.3">60</text>
<text x="222.6" y="439.4" font-size="19.5" font-weight="normal" textLength="18.7" lengthAdjust="spacingAndGlyphs" stroke="#111" stroke-width="0.3">59</text>
<text x="822.6" y="614" font-size="19.5" font-weight="normal" textLength="17.4" lengthAdjust="spacingAndGlyphs" stroke="#111" stroke-width="0.3">51</text>
<text x="153.8" y="841.5" font-size="19.5" font-weight="normal" textLength="26.9" lengthAdjust="spacingAndGlyphs" stroke="#111" stroke-width="0.3">133</text>
<text x="156.1" y="953.2" font-size="19.5" font-weight="normal" textLength="37.4" lengthAdjust="spacingAndGlyphs" stroke="#111" stroke-width="0.3">1008</text>
<text x="936.5" y="859.2" font-size="19.5" font-weight="normal" textLength="27.6" lengthAdjust="spacingAndGlyphs" stroke="#111" stroke-width="0.3">962</text>
<text x="765.4" y="999.7" font-size="19.5" font-weight="normal" textLength="19.2" lengthAdjust="spacingAndGlyphs" stroke="#111" stroke-width="0.3">90</text>
<text x="616.3" y="1027.5" font-size="19.5" font-weight="normal" textLength="36.4" lengthAdjust="spacingAndGlyphs" stroke="#111" stroke-width="0.3">1008</text>
<text x="610.5" y="1128.3" font-size="19.5" font-weight="normal" textLength="27.2" lengthAdjust="spacingAndGlyphs" stroke="#111" stroke-width="0.3">929</text>
<text x="776" y="1160" font-size="14.5" font-weight="bold" textLength="162" lengthAdjust="spacingAndGlyphs" stroke="#111" stroke-width="0.3">(ART NO. WB12047 C)</text>
<line x1="532" y1="56.2" x2="562.5" y2="38.4" stroke-width="1.6" stroke-linecap="butt"/>
<line x1="624.8" y1="68.8" x2="609.9" y2="109.9" stroke-width="1.6" stroke-linecap="butt"/>
<line x1="464.1" y1="153.4" x2="495.4" y2="171.2" stroke-width="1.6" stroke-linecap="butt"/>
<line x1="265.9" y1="205.6" x2="297.9" y2="223.7" stroke-width="1.6" stroke-linecap="butt"/>
<line x1="660.8" y1="236.4" x2="692.3" y2="218.3" stroke-width="1.6" stroke-linecap="butt"/>
<line x1="683.8" y1="364" x2="714" y2="346.2" stroke-width="1.6" stroke-linecap="butt"/>
<line x1="247.3" y1="442.1" x2="278.4" y2="459.9" stroke-width="1.6" stroke-linecap="butt"/>
<line x1="786.4" y1="634" x2="817.6" y2="616.7" stroke-width="1.6" stroke-linecap="butt"/>
<line x1="179" y1="845.3" x2="209" y2="862.5" stroke-width="1.6" stroke-linecap="butt"/>
<line x1="182" y1="957" x2="212" y2="974.3" stroke-width="1.6" stroke-linecap="butt"/>
<line x1="899.8" y1="879.8" x2="931.5" y2="861.7" stroke-width="1.6" stroke-linecap="butt"/>
<line x1="730.3" y1="1020.4" x2="761" y2="1001.9" stroke-width="1.6" stroke-linecap="butt"/>
<line x1="640" y1="1031.7" x2="671.7" y2="1049.2" stroke-width="1.6" stroke-linecap="butt"/>
<line x1="635.8" y1="1132.5" x2="666.7" y2="1149.2" stroke-width="1.6" stroke-linecap="butt"/>
</g>
</svg>
</body></html>
